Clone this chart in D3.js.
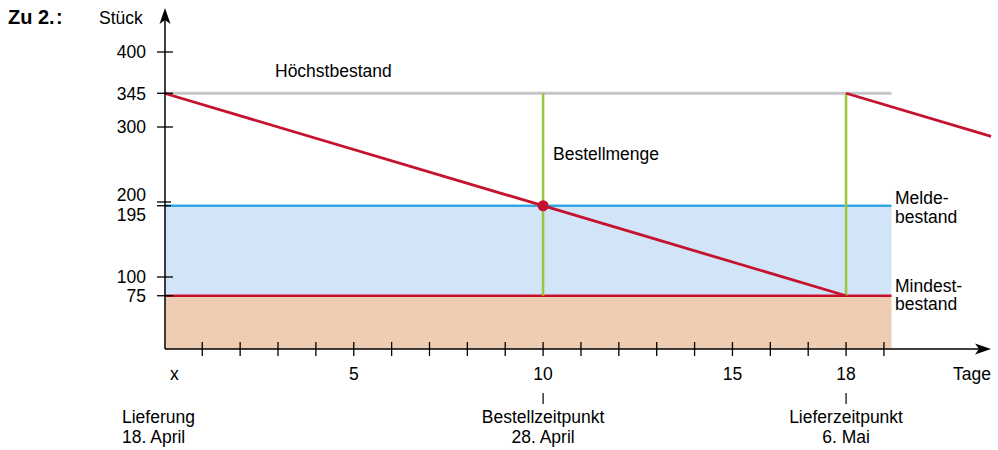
<!DOCTYPE html>
<html>
<head>
<meta charset="utf-8">
<script src="https://cdn.jsdelivr.net/npm/d3@7"></script>
<style>
  html, body { margin: 0; padding: 0; background: #fff; }
  svg { display: block; font-family: "Liberation Sans", Arial, sans-serif; }
</style>
</head>
<body>
<svg id="chart" width="998" height="450"></svg>
<script>
// ---- data ----
const yTicks = [400, 345, 300, 200, 195, 100, 75];
const xTickDays = d3.range(1, 20);
const xLabelDays = [0, 5, 10, 15, 18];
const xLabelTexts = ["x", "5", "10", "15", "18"];
// stock level: two consumption periods (jump at delivery)
const stockDays1 = [0, 18];
const stockValues1 = [345, 75];
const stockDays2 = [18, 21.83];
const stockValues2 = [345, 287.5];
const maxStock = 345;
const reorderLevel = 195;
const minStock = 75;
const orderDay = 10;
const deliveryDay = 18;
const bandEndDay = 19.2;
const eventDays = [0, 10, 18];
const eventNames = ["Lieferung", "Bestellzeitpunkt", "Lieferzeitpunkt"];
const eventDates = ["18. April", "28. April", "6. Mai"];

// ---- colours ----
const RED = "#c5122f", BLUE = "#33a7e4", BLUEFILL = "#d2e4f7", SALMON = "#efcdb3",
      GREEN = "#9dc43d", GRAY = "#c6c6c6";

const svg = d3.select("#chart");
const x = d3.scaleLinear().domain([0, 22]).range([164.4, 164.4 + 22 * 37.87]);
const y = d3.scaleLinear().domain([0, 400]).range([352, 52]);
const axisX = 165, axisY = 349;
const FS = 17.5;

// bands
svg.append("rect").attr("x", axisX).attr("y", y(minStock))
  .attr("width", x(bandEndDay) - axisX).attr("height", axisY - y(minStock)).attr("fill", SALMON);
svg.append("rect").attr("x", axisX).attr("y", y(reorderLevel))
  .attr("width", x(bandEndDay) - axisX).attr("height", y(minStock) - y(reorderLevel)).attr("fill", BLUEFILL);

// horizontal level lines
svg.append("line").attr("x1", axisX).attr("x2", x(bandEndDay)).attr("y1", y(maxStock)).attr("y2", y(maxStock))
  .attr("stroke", GRAY).attr("stroke-width", 3);
svg.append("line").attr("x1", axisX).attr("x2", x(bandEndDay)).attr("y1", y(reorderLevel)).attr("y2", y(reorderLevel))
  .attr("stroke", BLUE).attr("stroke-width", 2.5);
svg.append("line").attr("x1", axisX).attr("x2", x(bandEndDay)).attr("y1", y(minStock)).attr("y2", y(minStock))
  .attr("stroke", RED).attr("stroke-width", 2.5);

// green order quantity lines
[orderDay, deliveryDay].forEach(d => {
  svg.append("line").attr("x1", x(d)).attr("x2", x(d)).attr("y1", y(maxStock)).attr("y2", y(minStock))
    .attr("stroke", GREEN).attr("stroke-width", 2.5);
});

// stock line segments
const line = d3.line().x(p => x(p[0])).y(p => y(p[1]));
[[stockDays1, stockValues1], [stockDays2, stockValues2]].forEach(([ds, vs]) => {
  svg.append("path").attr("d", line(ds.map((d, i) => [d, vs[i]]))).attr("fill", "none")
    .attr("stroke", RED).attr("stroke-width", 2.8);
});
svg.append("circle").attr("cx", x(orderDay)).attr("cy", y(reorderLevel)).attr("r", 5.5).attr("fill", RED);

// axes
svg.append("line").attr("x1", axisX).attr("x2", axisX).attr("y1", axisY).attr("y2", 14)
  .attr("stroke", "#000").attr("stroke-width", 1.5);
svg.append("path").attr("d", `M${axisX},8 L${axisX - 5.5},24 L${axisX},20 L${axisX + 5.5},24 Z`).attr("fill", "#000");
svg.append("line").attr("x1", axisX).attr("x2", 985).attr("y1", axisY).attr("y2", axisY)
  .attr("stroke", "#000").attr("stroke-width", 1.5);
svg.append("path").attr("d", `M991,${axisY} L975,${axisY - 5.5} L979,${axisY} L975,${axisY + 5.5} Z`).attr("fill", "#000");

// y ticks
svg.selectAll(".yt").data(yTicks).join("line")
  .attr("x1", axisX - 8).attr("x2", d => (d === 200 || d === 195) ? axisX + 6 : axisX + 8)
  .attr("y1", d => y(d)).attr("y2", d => y(d)).attr("stroke", "#000").attr("stroke-width", 1.3);
svg.selectAll(".yl").data(yTicks).join("text")
  .attr("x", 146).attr("y", d => y(d) + (d === 200 ? -7 : d === 195 ? 8.5 : 0))
  .attr("dy", "0.36em").attr("text-anchor", "end").attr("font-size", FS).text(d => d);

// x ticks
svg.selectAll(".xt").data(xTickDays).join("line")
  .attr("x1", d => x(d)).attr("x2", d => x(d)).attr("y1", axisY - 7).attr("y2", axisY + 7)
  .attr("stroke", "#000").attr("stroke-width", 1.3);
svg.selectAll(".xl").data(xLabelDays).join("text")
  .attr("x", d => x(d) + (d === 0 ? 10 : 0)).attr("y", 380).attr("text-anchor", "middle")
  .attr("font-size", FS).text((d, i) => xLabelTexts[i]);

// events
eventDays.forEach((d, i) => {
  const anchorStart = d === 0;
  const tx = anchorStart ? 122 : x(d);
  if (!anchorStart) {
    svg.append("line").attr("x1", x(d)).attr("x2", x(d)).attr("y1", 393).attr("y2", 404)
      .attr("stroke", "#000").attr("stroke-width", 1.2);
  }
  svg.append("text").attr("x", tx).attr("y", 423).attr("text-anchor", anchorStart ? "start" : "middle")
    .attr("font-size", FS).text(eventNames[i]);
  svg.append("text").attr("x", tx).attr("y", 442.5).attr("text-anchor", anchorStart ? "start" : "middle")
    .attr("font-size", FS).text(eventDates[i]);
});

// labels
svg.append("text").attr("x", 8).attr("y", 23.5).attr("font-size", 20).attr("font-weight", "bold").text("Zu 2.");
svg.append("text").attr("x", 56).attr("y", 23.5).attr("font-size", 20).attr("font-weight", "bold").text(":");
svg.append("text").attr("x", 99).attr("y", 23.5).attr("font-size", FS).text("Stück");
svg.append("text").attr("x", 991).attr("y", 380).attr("text-anchor", "end").attr("font-size", FS).text("Tage");
svg.append("text").attr("x", 275).attr("y", 77.3).attr("font-size", FS).text("Höchstbestand");
svg.append("text").attr("x", 553).attr("y", 160).attr("font-size", FS).text("Bestellmenge");
svg.append("text").attr("x", 895).attr("y", 203.5).attr("font-size", FS).text("Melde-");
svg.append("text").attr("x", 895).attr("y", 222.5).attr("font-size", FS).text("bestand");
svg.append("text").attr("x", 895).attr("y", 291.5).attr("font-size", FS).text("Mindest-");
svg.append("text").attr("x", 895).attr("y", 310).attr("font-size", FS).text("bestand");
</script>
</body>
</html>
